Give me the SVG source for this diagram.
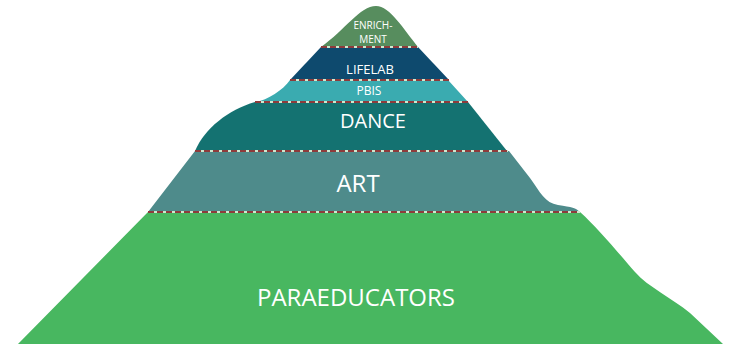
<svg xmlns="http://www.w3.org/2000/svg" width="732" height="344" viewBox="0 0 732 344">
<style>
text{font-family:"Open Sans","Liberation Sans",sans-serif;fill:#ffffff;text-anchor:middle}
.under{stroke:#cfe9cf;stroke-width:2;fill:none}
.dash{stroke:#8e3b3b;stroke-width:2;stroke-dasharray:6 3;fill:none}
</style>
<rect width="732" height="344" fill="#ffffff"/>
<g id="paraeducators">
<path d="M148,212 L580,212 C598,228 620,255 635,272 C648,287 672,298 690,313 L723,344 L18,344 Z" fill="#48b760"/>
<text x="356" y="306" font-size="24">PARAEDUCATORS</text>
</g>
<g id="art">
<path d="M195,151 L509,151 L530,178 C540,192 545,203 558,205 C572,207 576,208 580,212 L148,212 Z" fill="#4e8b8b"/>
<text x="358" y="192" font-size="24">ART</text>
</g>
<g id="dance">
<path d="M255,102 L468,102 L507,151 L195,151 C205,128 228,110 255,102 Z" fill="#147271"/>
<text x="373" y="128" font-size="20">DANCE</text>
</g>
<g id="pbis">
<path d="M290,80 L448,80 L468,102 L255,102 C268,100 283,90 290,80 Z" fill="#3aabb0"/>
<text x="369" y="95" font-size="12">PBIS</text>
</g>
<g id="lifelab">
<path d="M321,47 L418,47 L449,80 L290,80 Z" fill="#0e4a6e"/>
<text x="370" y="74" font-size="13">LIFELAB</text>
</g>
<g id="enrichment">
<path d="M321,47 C345,30 360,6 376,6 C390,6 404,30 418,47 Z" fill="#578d5e"/>
<text x="373" y="29" font-size="10">ENRICH-</text>
<text x="373" y="43" font-size="10">MENT</text>
</g>
<g id="connectors">
<path class="under" d="M321,47H418M290,80H449M255,102H468M195,151H508M148,212H580"/>
<path class="dash" d="M321,47H418M290,80H449M255,102H468M195,151H508M148,212H580"/>
</g>
</svg>
